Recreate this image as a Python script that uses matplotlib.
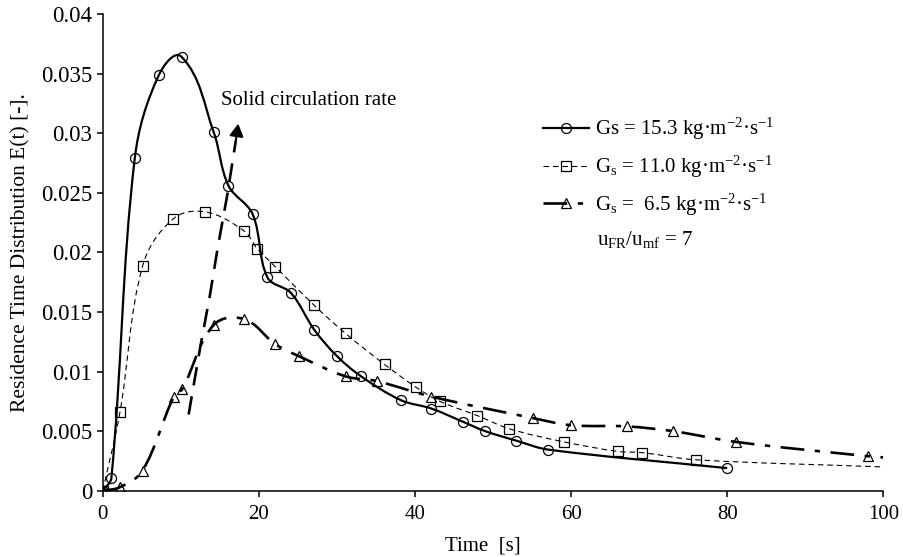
import matplotlib
matplotlib.use('Agg')
import matplotlib.pyplot as plt
import numpy as np
from matplotlib.path import Path
from matplotlib.patches import PathPatch
from matplotlib.lines import Line2D
from matplotlib.ticker import FuncFormatter

plt.rcParams['font.family'] = ['Liberation Serif', 'DejaVu Serif']
plt.rcParams['mathtext.fontset'] = 'custom'
plt.rcParams['mathtext.rm'] = 'Liberation Serif'
plt.rcParams['mathtext.it'] = 'Liberation Serif:italic'

# Gs = 15.3 kg/m2/s
t_153 = [0, 1.1, 4.1, 7.2, 10.1, 14.2, 16.1, 19.2, 21.1, 24.1, 27.1, 30.0, 33.1,
         38.2, 42.1, 46.1, 49.0, 53.0, 57.1, 80.0]
e_153 = [0, 0.00107, 0.0279, 0.0349, 0.0364, 0.0301, 0.0256, 0.0232, 0.0179, 0.0166,
         0.0135, 0.0113, 0.0096, 0.0076, 0.0069, 0.0058, 0.0050, 0.0042, 0.00345, 0.0019]

# Gs = 11.0 kg/m2/s
t_110 = [0, 2.2, 5.1, 9.0, 13.1, 18.1, 19.8, 22.1, 27.1, 31.1, 36.1, 40.1, 43.2,
         48.0, 52.1, 59.1, 66.0, 69.1, 76.0]
e_110 = [0, 0.0066, 0.01885, 0.0228, 0.0234, 0.0218, 0.0203, 0.0188, 0.01555, 0.0132,
         0.0106, 0.0087, 0.0075, 0.0063, 0.0052, 0.0041, 0.0033, 0.0032, 0.0026]
end_110 = (100, 0.0020)

# Gs = 6.5 kg/m2/s
t_65 = [0, 2.2, 5.1, 9.1, 10.2, 14.2, 18.1, 22.1, 25.1, 31.1, 35.1, 42.1, 55.1,
        60.0, 67.1, 73.1, 81.1, 98.0]
e_65 = [0, 0.0003, 0.0017, 0.0079, 0.00855, 0.0139, 0.0144, 0.0123, 0.0113, 0.0096,
        0.0092, 0.0079, 0.0061, 0.0055, 0.0054, 0.0050, 0.0041, 0.0029]
end_65 = (100, 0.0028)

# trend arrow "Solid circulation rate"
t_arrow = [11.0, 12.5, 13.7, 14.7, 16.0, 17.05]
e_arrow = [0.0064, 0.0121, 0.0163, 0.0203, 0.0250, 0.0294]
arrow_tip = (17.36, 0.0308)

labels = ['Gs = 15.3 kg·m$^{\\mathregular{-2}}$·s$^{\\mathregular{-1}}$',
          'G$_{\\mathregular{s}}$ = 11.0 kg·m$^{\\mathregular{-2}}$·s$^{\\mathregular{-1}}$',
          'G$_{\\mathregular{s}}$ =  6.5 kg·m$^{\\mathregular{-2}}$·s$^{\\mathregular{-1}}$']

SX, SY = 7.8, 11920.0  # rough pixel scale, for smoothing only


def smooth_path(x, y):
    p = np.column_stack([x, y]).astype(float)
    q = p * [SX, SY]
    n = len(p)
    tang = []
    for i in range(n):
        a = q[max(i - 1, 0)]
        b = q[min(i + 1, n - 1)]
        d = b - a
        tang.append(d / np.hypot(*d))
    verts = [p[0]]
    codes = [Path.MOVETO]
    for i in range(n - 1):
        d = np.hypot(*(q[i + 1] - q[i])) * 0.35
        c1 = (q[i] + tang[i] * d) / [SX, SY]
        c2 = (q[i + 1] - tang[i + 1] * d) / [SX, SY]
        verts += [c1, c2, p[i + 1]]
        codes += [Path.CURVE4] * 3
    return Path(verts, codes)


fig = plt.figure(figsize=(9.04, 5.57), dpi=100)
ax = fig.add_axes([0.1137, 0.1189, 0.8634, 0.856])

ls_solid = '-'
ls_dash = (0, (5, 3.5))
ls_dashdot = (0, (9, 4, 2, 4))
ls_arrow = (0, (7, 4.2))

ax.add_patch(PathPatch(smooth_path(t_153, e_153), fill=False, lw=1.6,
                       ls=ls_solid, color='black'))
ax.add_patch(PathPatch(smooth_path(t_110 + [end_110[0]], e_110 + [end_110[1]]),
                       fill=False, lw=0.8, ls=ls_dash, color='black'))
ax.add_patch(PathPatch(smooth_path(t_65 + [end_65[0]], e_65 + [end_65[1]]),
                       fill=False, lw=1.9, ls=ls_dashdot, color='black', capstyle='butt'))

mk = dict(mfc='none', mec='black', mew=0.9, linestyle='none')
ax.plot(t_153, e_153, marker='o', ms=7.2, **mk)
ax.plot(t_110, e_110, marker='s', ms=7, **mk)
ax.plot(t_65, e_65, marker='^', ms=7.5, **mk)

ax.plot(t_arrow, e_arrow, color='black', lw=1.9, ls=ls_arrow)
ax.annotate('', xy=arrow_tip, xytext=(t_arrow[-1], e_arrow[-1]),
            arrowprops=dict(arrowstyle='-|>,head_length=0.75,head_width=0.42',
                            color='black', lw=1.5, shrinkA=0, shrinkB=0))
ax.text(15.2, 0.0327, 'Solid circulation rate', fontsize=15, va='center', ha='left')

handles = [Line2D([], [], color='black', lw=1.6, marker='o', ms=7.2, mfc='none', mew=0.9),
           Line2D([], [], color='black', lw=0.8, ls=ls_dash, marker='s', ms=7, mfc='none', mew=0.9),
           Line2D([], [], color='black', lw=1.9, ls=ls_dashdot, marker='^', ms=7.5, mfc='none', mew=0.9)]
ax.legend(handles, labels, loc='upper left', bbox_to_anchor=(0.564, 0.786),
          frameon=False, fontsize=15, handlelength=2.2, handletextpad=0.28,
          labelspacing=0.56, borderpad=0, borderaxespad=0)
ax.text(63.3, 0.0211, '$\\mathregular{u_{FR}/u_{mf}}$ = 7', fontsize=15,
        va='center', ha='left')

ax.set_xlim(0, 100)
ax.set_ylim(0, 0.04)
ax.set_xticks([0, 20, 40, 60, 80, 100])
ax.set_yticks(np.arange(0, 0.0401, 0.005))
ax.yaxis.set_major_formatter(FuncFormatter(lambda v, p: '%g' % round(v, 4)))
ax.spines['top'].set_visible(False)
ax.spines['right'].set_visible(False)
for s in ['left', 'bottom']:
    ax.spines[s].set_linewidth(1.1)
ax.tick_params(axis='both', direction='out', length=4.5, width=1.1)
ax.tick_params(axis='x', labelsize=15, pad=5.5)
ax.tick_params(axis='y', labelsize=16.5, pad=3)

ax.set_xlabel('Time  [s]', fontsize=15)
ax.set_ylabel('Residence Time Distribution E(t) [-].', fontsize=15.5)
ax.xaxis.set_label_coords(0.487, -0.095)
ax.yaxis.set_label_coords(-0.092, 0.5)

fig.savefig('out.png', dpi=100)
